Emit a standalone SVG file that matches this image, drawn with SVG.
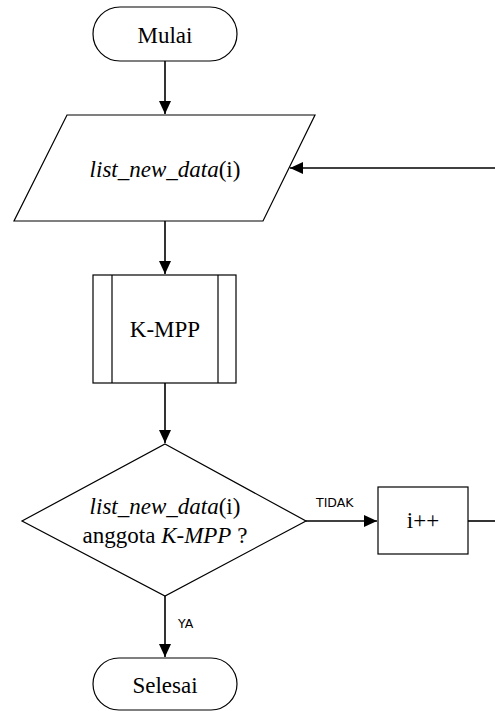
<svg xmlns="http://www.w3.org/2000/svg" width="495" height="711" viewBox="0 0 495 711">
  <style>
    .shape { fill: #fff; stroke: #000; stroke-width: 1.2; }
    .line { fill: none; stroke: #000; stroke-width: 1.6; }
    .t { font-family: 'Liberation Serif', 'DejaVu Serif', serif; font-size: 23px; fill: #000; text-anchor: middle; }
    .lbl { font-family: 'DejaVu Sans', 'Liberation Sans', sans-serif; font-size: 12.5px; fill: #000; }
    .i { font-style: italic; }
  </style>
  <defs>
    <marker id="arrow" viewBox="0 0 13 12" refX="13" refY="6" markerWidth="13" markerHeight="12" markerUnits="userSpaceOnUse" orient="auto">
      <path d="M0,0 L13,6 L0,12 Z" fill="#000"/>
    </marker>
  </defs>

  <!-- flow lines and branch labels -->
  <g id="connectors">
    <line class="line" x1="165" y1="61" x2="165" y2="114" marker-end="url(#arrow)"/>
    <line class="line" x1="495" y1="168" x2="290" y2="168" marker-end="url(#arrow)"/>
    <line class="line" x1="165" y1="221" x2="165" y2="274" marker-end="url(#arrow)"/>
    <line class="line" x1="165" y1="383" x2="165" y2="443" marker-end="url(#arrow)"/>
    <line class="line" x1="306" y1="521" x2="377" y2="521" marker-end="url(#arrow)"/>
    <line class="line" x1="468" y1="521" x2="495" y2="521"/>
    <line class="line" x1="165" y1="596" x2="165" y2="657" marker-end="url(#arrow)"/>
    <text class="lbl" x="316" y="507">TIDAK</text>
    <text class="lbl" x="178" y="628">YA</text>
  </g>

  <g id="start">
    <rect class="shape" x="93" y="7" width="144" height="54" rx="27" ry="27"/>
    <text class="t" x="165" y="43">Mulai</text>
  </g>

  <g id="input">
    <polygon class="shape" points="67,115 315,115 263,221 14,221"/>
    <text class="t" x="165" y="177"><tspan class="i">list_new_data</tspan>(i)</text>
  </g>

  <g id="kmpp">
    <rect class="shape" x="93" y="275" width="143" height="108"/>
    <line class="shape" x1="112" y1="275" x2="112" y2="383"/>
    <line class="shape" x1="218" y1="275" x2="218" y2="383"/>
    <text class="t" x="165" y="337">K-MPP</text>
  </g>

  <g id="decision">
    <polygon class="shape" points="165,444 306,521 165,596 22,521"/>
    <text class="t" x="165" y="514"><tspan class="i">list_new_data</tspan>(i)</text>
    <text class="t" x="165" y="543">anggota <tspan class="i">K-MPP</tspan> ?</text>
  </g>

  <g id="increment">
    <rect class="shape" x="378" y="487" width="90" height="67"/>
    <text class="t" x="423" y="528">i++</text>
  </g>

  <g id="end">
    <rect class="shape" x="93" y="658" width="144" height="52" rx="26" ry="26"/>
    <text class="t" x="165" y="693">Selesai</text>
  </g>
</svg>
